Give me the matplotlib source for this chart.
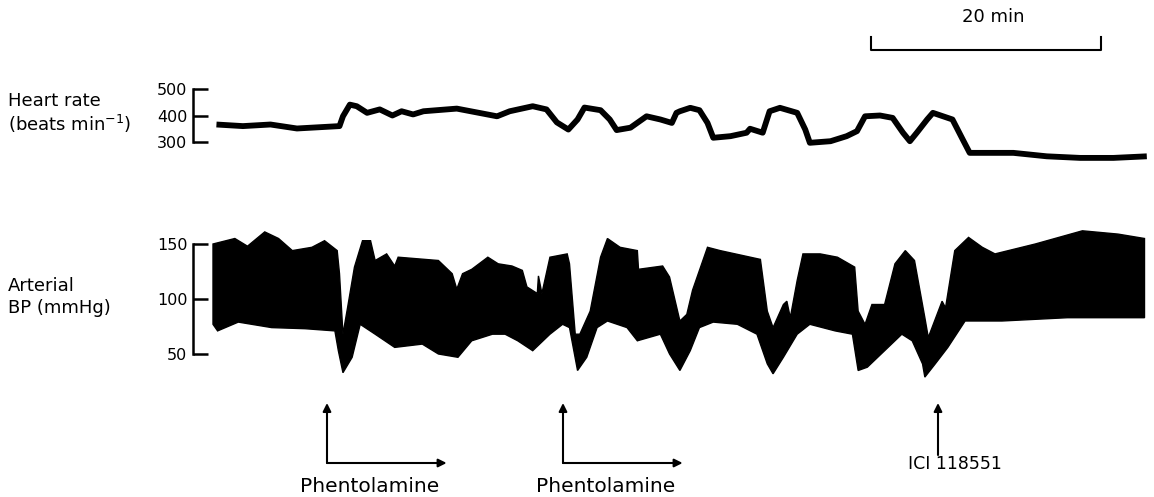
import matplotlib
matplotlib.use('Agg')
import numpy as np
import matplotlib.pyplot as plt
from matplotlib.transforms import blended_transform_factory

plt.rcParams['font.family'] = ['DejaVu Sans']

# heart rate trace (time in min, beats/min)
hr_t = [0.3, 2.6, 5.0, 7.3, 11.0, 11.3, 11.9, 12.5, 13.4, 14.5, 15.6, 16.4,
        17.4, 18.3, 21.2, 24.7, 25.8, 27.8, 29.0, 29.9, 30.9, 31.7, 32.3, 33.7,
        34.5, 35.1, 36.3, 37.7, 38.9, 39.9, 40.3, 40.6, 41.5, 42.3, 43.0, 43.5,
        45.0, 46.4, 46.7, 47.8, 48.4, 49.3, 50.8, 51.5, 51.9, 53.7, 55.1, 56.0,
        56.7, 58.0, 59.1, 60.0, 60.6, 61.2, 62.1, 62.6, 64.3, 65.2, 65.8, 69.6,
        72.5, 75.4, 78.3, 81.2]
hr_v = [366, 360, 366, 351, 360, 397, 441, 435, 410, 423, 400, 416,
        404, 416, 426, 397, 416, 435, 423, 374, 347, 385, 430, 420,
        385, 345, 354, 397, 385, 372, 410, 416, 429, 420, 372, 316,
        322, 335, 350, 335, 416, 429, 410, 347, 297, 303, 322, 341,
        397, 400, 391, 335, 303, 335, 385, 410, 385, 309, 259, 259,
        246, 240, 240, 246]

# arterial BP, upper (systolic) envelope
bp_hi_t = [0.0, 1.9, 3.0, 4.5, 5.7, 6.9, 8.6, 9.7, 10.8, 11.0, 11.3, 11.7,
           12.3, 13.0, 13.7, 14.1, 15.1, 15.8, 16.1, 19.6, 20.8, 21.2, 21.7, 22.5,
           23.9, 24.8, 26.0, 26.9, 27.3, 28.2, 28.3, 28.6, 29.3, 30.8, 31.0, 31.5,
           31.9, 32.8, 33.7, 34.3, 35.4, 36.9, 37.0, 39.1, 39.7, 40.6, 41.2, 41.7,
           43.0, 44.1, 47.6, 48.2, 48.7, 49.6, 49.9, 50.2, 50.8, 51.3, 52.8, 54.3,
           55.8, 56.1, 56.7, 57.3, 58.4, 59.3, 60.2, 61.0, 61.9, 62.2, 63.4, 63.7,
           64.5, 65.7, 66.9, 68.0, 71.5, 75.6, 78.7, 81.0]
bp_hi = [150, 155, 148, 161, 155, 144, 147, 153, 144, 123, 68, 92,
         129, 153, 153, 135, 141, 130, 138, 135, 123, 109, 123, 127,
         138, 132, 130, 126, 111, 105, 121, 105, 138, 141, 132, 68,
         68, 89, 138, 155, 147, 144, 127, 130, 120, 80, 86, 108,
         147, 144, 136, 89, 74, 95, 98, 83, 117, 141, 141, 138,
         129, 89, 77, 95, 95, 132, 144, 135, 83, 65, 98, 92,
         144, 156, 147, 141, 150, 162, 159, 155]

# arterial BP, lower (diastolic) envelope
bp_lo_t = [0.0, 0.4, 2.2, 5.1, 8.0, 10.6, 10.9, 11.3, 12.1, 12.8, 14.1, 15.8,
           18.2, 19.6, 21.3, 22.5, 24.3, 25.4, 26.5, 27.8, 29.3, 30.4, 31.0, 31.7,
           32.5, 33.4, 34.3, 36.0, 36.9, 38.9, 39.7, 40.6, 41.5, 42.3, 43.5, 45.6,
           47.3, 48.2, 48.7, 49.6, 50.8, 51.9, 54.1, 55.6, 56.1, 56.9, 58.4, 59.9,
           60.8, 61.7, 61.9, 62.8, 63.9, 65.4, 68.6, 74.3, 81.0]
bp_lo = [77, 71, 79, 74, 73, 71, 53, 33, 47, 77, 68, 56,
         59, 50, 47, 62, 68, 68, 62, 53, 68, 77, 74, 35,
         47, 74, 80, 74, 62, 68, 50, 35, 53, 74, 79, 77,
         68, 41, 32, 47, 68, 77, 71, 68, 35, 38, 53, 68,
         62, 41, 29, 41, 56, 80, 80, 83, 83]

hr_ticks = [300, 400, 500]
bp_ticks = [50, 100, 150]

W, H = 1154, 497
fig = plt.figure(figsize=(W / 100, H / 100), dpi=100)

px = 11.5  # pixels per minute
x0 = 213
left = 193
t_left = (left - x0) / px
t_right = (1150 - x0) / px


def axes_px(top, bottom):
    return fig.add_axes([left / W, (H - bottom) / H, (1150 - left) / W, (bottom - top) / H])


def style(ax, ticks):
    for s in ['top', 'right', 'bottom']:
        ax.spines[s].set_visible(False)
    ax.spines['left'].set_bounds(ticks[0], ticks[-1])
    ax.spines['left'].set_linewidth(1.8)
    ax.set_yticks(ticks)
    ax.tick_params(axis='y', direction='in', length=11, width=1.8, pad=4, labelsize=11.5)
    ax.set_xticks([])
    ax.set_xlim(t_left, t_right)
    ax.patch.set_visible(False)


# heart rate panel: 500 at y=89, 300 at y=142
ax1 = axes_px(89 - 10 * 0.265, 142 + 70 * 0.265)
ax1.set_ylim(230, 510)
ax1.plot(hr_t, hr_v, color='black', lw=4.2, solid_joinstyle='round', solid_capstyle='butt')
style(ax1, hr_ticks)

# BP panel: 150 at y=244, 50 at y=354
ax2 = axes_px(244 - 15 * 1.1, 354 + 25 * 1.1)
ax2.set_ylim(25, 165)
poly_t = np.concatenate([bp_hi_t, bp_lo_t[::-1]])
poly_v = np.concatenate([bp_hi, bp_lo[::-1]])
ax2.fill(poly_t, poly_v, facecolor='black', edgecolor='black', lw=1.0)
style(ax2, bp_ticks)

fig.text(8 / W, 1 - 101 / H, 'Heart rate', fontsize=13, va='center')
fig.text(8 / W, 1 - 124 / H, '(beats min$^{-1}$)', fontsize=13, va='center')
fig.text(8 / W, 1 - 286 / H, 'Arterial', fontsize=13, va='center')
fig.text(8 / W, 1 - 308 / H, 'BP (mmHg)', fontsize=13, va='center')

tr = blended_transform_factory(ax2.transData, fig.transFigure)
aprops = dict(arrowstyle='-|>', lw=1.5, color='black', mutation_scale=12, shrinkA=0, shrinkB=0)


def fy(y):
    return (H - y) / H


for t in [(327 - x0) / px, (563 - x0) / px]:
    ax2.annotate('', xy=(t, fy(403)), xytext=(t, fy(463)), xycoords=tr, textcoords=tr,
                 arrowprops=aprops, annotation_clip=False)
    ax2.annotate('', xy=(t + 10.4, fy(463)), xytext=(t, fy(463)), xycoords=tr, textcoords=tr,
                 arrowprops=aprops, annotation_clip=False)
    ax2.text(t + 3.7, fy(486), 'Phentolamine', transform=tr, fontsize=14.5, ha='center', va='center')

t_ici = (938 - x0) / px
ax2.annotate('', xy=(t_ici, fy(403)), xytext=(t_ici, fy(455)), xycoords=tr, textcoords=tr,
             arrowprops=aprops, annotation_clip=False)
ax2.text(t_ici + 1.5, fy(464), 'ICI 118551', transform=tr, fontsize=12.5, ha='center', va='center')

# 20 min scale bar
t_s = (871 - x0) / px
ax2.plot([t_s, t_s, t_s + 20, t_s + 20], [fy(37), fy(50), fy(50), fy(37)], transform=tr,
         color='black', lw=1.5, clip_on=False)
ax2.text(t_s + 10.6, fy(17), '20 min', transform=tr, fontsize=13, ha='center', va='center')

fig.savefig('out.png', dpi=100)
